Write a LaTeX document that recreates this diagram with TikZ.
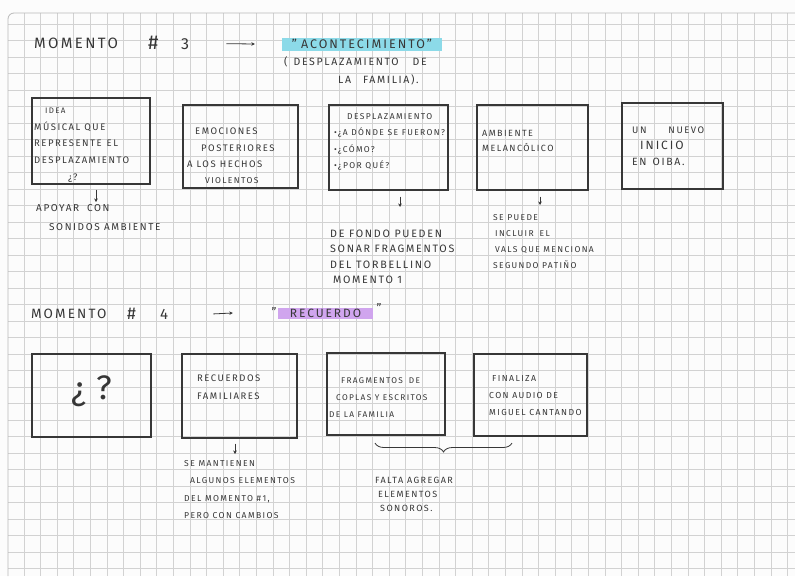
\documentclass[tikz,border=0pt]{standalone}
\usepackage{fontspec}
\setmainfont{Fira Sans}[LetterSpace=16]
\usetikzlibrary{decorations.pathreplacing,arrows.meta}
\definecolor{ink}{RGB}{55,55,55}
\definecolor{gridc}{RGB}{210,210,210}
\definecolor{paper}{RGB}{252,252,252}
\definecolor{edge}{RGB}{185,185,185}
\definecolor{hlcyan}{RGB}{140,218,232}
\definecolor{hlviolet}{RGB}{208,165,238}
\tikzset{
  box/.style={draw=ink, line width=1.3pt, inner sep=0pt},
  txt/.style={text=ink, inner sep=0pt, anchor=base west, align=left},
  arr/.style={draw=ink, line width=0.8pt, -{Stealth[length=3.5pt,width=3.5pt]}},
  hl/.style={inner sep=0pt, text=ink}
}
\begin{document}
\begin{tikzpicture}[x=1pt,y=-1pt]
\useasboundingbox (0,0) rectangle (795,576);
\fill[paper] (0,0) rectangle (795,576);
% grid
\foreach \i in {1,...,47} \draw[gridc, line width=0.8pt] ({7.4+16.6*\i},13) -- ({7.4+16.6*\i},576);
\foreach \j in {1,...,34} \draw[gridc, line width=0.8pt] (8,{7.8+16.5*\j}) -- (795,{7.8+16.5*\j});
\draw[edge, line width=0.8pt, rounded corners=6pt] (8,576) -- (8,13) -- (795,13);

% ---------- MOMENTO 3 ----------
\node[txt, font=\fontsize{15}{15}\selectfont] (m3) at (34,48) {MOMENTO};
\node[txt, font=\fontsize{20}{20}\selectfont] (h3) at (148,49) {\#};
\node[txt, font=\fontsize{16}{16}\selectfont] (n3) at (181,49) {3};
\node[hl, fill=hlcyan, minimum width=160pt, minimum height=13pt, font=\fontsize{12.5}{12.5}\selectfont] (acon) at (362,44) {"\hspace{4pt}ACONTECIMIENTO\hspace{2pt}"};
\draw[arr] ([xshift=37pt]n3.east) -- ([xshift=-27pt]acon.west);
\node[txt, font=\fontsize{10.5}{18}\selectfont] (sub3) at (284,83) {(\hspace{6pt}DESPLAZAMIENTO\hspace{14pt}DE\\\hspace*{54pt}LA\hspace{12pt}FAMILIA).};

% boxes row 1
\node[box, minimum width=118pt, minimum height=86pt] (A) at (91,141) {};
\node[box, minimum width=115pt, minimum height=83pt] (B) at (240.5,146.5) {};
\node[box, minimum width=119pt, minimum height=85pt] (C) at (388.5,147.5) {};
\node[box, minimum width=111pt, minimum height=85pt] (D) at (532.5,147.5) {};
\node[box, minimum width=101pt, minimum height=86pt] (E) at (672.5,146) {};

\node[txt, font=\fontsize{9.5}{16.6}\selectfont] (tA) at (34,180)
  {\hspace*{11pt}{\fontsize{8}{8}\selectfont IDEA}\\MÚSICAL\hspace{4pt}QUE\\REPRESENTE\hspace{5pt}EL\\DESPLAZAMIENTO\\\hspace*{34pt}¿?};
\node[txt, font=\fontsize{9.5}{16.2}\selectfont] (tB) at (187,183.5)
  {\hspace*{8pt}EMOCIONES\\\hspace*{14pt}POSTERIORES\\A LOS HECHOS\\\hspace*{18pt}{\fontsize{8.5}{8.5}\selectfont VIOLENTOS}};
\node[txt, font=\fontsize{8.5}{16.3}\selectfont] (tC) at (334,168.5)
  {\hspace*{13pt}DESPLAZAMIENTO\\•¿A DÓNDE SE FUERON?\\•¿CÓMO?\\•¿POR QUÉ?};
\node[txt, font=\fontsize{9}{15}\selectfont] (tD) at (482,151.5)
  {AMBIENTE\\MELANCÓLICO};
\node[txt, font=\fontsize{9.5}{16}\selectfont] (tE) at (632,165.5)
  {UN\hspace{22pt}NUEVO\\\hspace*{8pt}{\fontsize{12}{12}\selectfont INICIO}\\{\fontsize{10.5}{10.5}\selectfont EN\hspace{6pt}OIBA.}};

% arrows and notes row 1
\coordinate (aA) at (96,202);
\coordinate (aC) at (400,207);
\coordinate (aD) at (540,205);
\draw[arr, shorten <=5pt] (A.south -| aA) -- (aA);
\draw[arr, shorten <=6pt] (C.south -| aC) -- (aC);
\draw[arr, shorten <=6pt] (D.south -| aD) -- (aD);

\node[txt, font=\fontsize{10}{19}\selectfont] (bA) at (36,230.5)
  {APOYAR\hspace{8pt}CON\\\hspace*{13pt}SONIDOS AMBIENTE};
\node[txt, font=\fontsize{10.7}{15.4}\selectfont] (bC) at (330,283.7)
  {DE FONDO PUEDEN\\SONAR FRAGMENTOS\\DEL TORBELLINO\\\hspace*{3pt}MOMENTO 1};
\node[txt, font=\fontsize{8.5}{16}\selectfont] (bD) at (493,268.5)
  {SE PUEDE\\\hspace*{2pt}INCLUIR\hspace{6pt}EL\\\hspace*{2pt}VALS QUE MENCIONA\\SEGUNDO PATIÑO};

% ---------- MOMENTO 4 ----------
\node[txt, font=\fontsize{13.5}{14}\selectfont] (m4) at (31,318) {MOMENTO};
\node[txt, font=\fontsize{17}{17}\selectfont] (h4) at (127,319) {\#};
\node[txt, font=\fontsize{15}{15}\selectfont] (n4) at (160,319) {4};
\node[hl, fill=hlviolet, minimum width=95pt, minimum height=11pt, font=\fontsize{12}{12}\selectfont] (rec) at (325.5,313) {RECUERDO};
\node[hl, font=\fontsize{12}{12}\selectfont] (q1) at (274,312) {"};
\node[hl, font=\fontsize{12}{12}\selectfont] (q2) at (379,308) {"};
\draw[arr] ([xshift=45pt]n4.east) -- ([xshift=-45pt]rec.west);

% boxes row 2
\node[box, minimum width=119pt, minimum height=83pt] (F) at (91.5,395.5) {};
\node[box, minimum width=115pt, minimum height=84pt] (G) at (239.5,396) {};
\node[box, minimum width=118pt, minimum height=82pt] (H) at (386,394) {};
\node[box, minimum width=113pt, minimum height=82pt] (I) at (530.5,395) {};

\node[text=ink, inner sep=0pt, font=\fontsize{34}{34}\selectfont] (tF) at (92,391) {¿\hspace{10pt}?};
\node[txt, font=\fontsize{9.5}{18}\selectfont] (tG) at (197,399.5)
  {RECUERDOS\\FAMILIARES};
\node[txt, font=\fontsize{8.3}{17}\selectfont] (tH) at (329,417.5)
  {\hspace*{12pt}FRAGMENTOS\hspace{6pt}DE\\\hspace*{7pt}COPLAS Y ESCRITOS\\DE LA FAMILIA};
\node[txt, font=\fontsize{8.7}{17}\selectfont] (tI) at (489,415.5)
  {\hspace*{3pt}FINALIZA\\CON AUDIO DE\\MIGUEL CANTANDO};

\coordinate (aG) at (235,454);
\draw[arr, shorten <=5pt] (G.south -| aG) -- (aG);
\node[txt, font=\fontsize{8.6}{17.3}\selectfont] (bG) at (184,518.4)
  {SE MANTIENEN\\\hspace*{6pt}ALGUNOS ELEMENTOS\\DEL MOMENTO \#1,\\PERO CON CAMBIOS};

\coordinate (brL) at (375,443);
\coordinate (brR) at (512,443);
\draw[ink, line width=0.8pt, decorate, decoration={brace, mirror, amplitude=9pt}] (brL) -- (brR);
\node[txt, font=\fontsize{9}{14}\selectfont] (bH) at (375,511.5)
  {FALTA AGREGAR\\\hspace*{3pt}ELEMENTOS\\\hspace*{5pt}SONOROS.};
\end{tikzpicture}
\end{document}
